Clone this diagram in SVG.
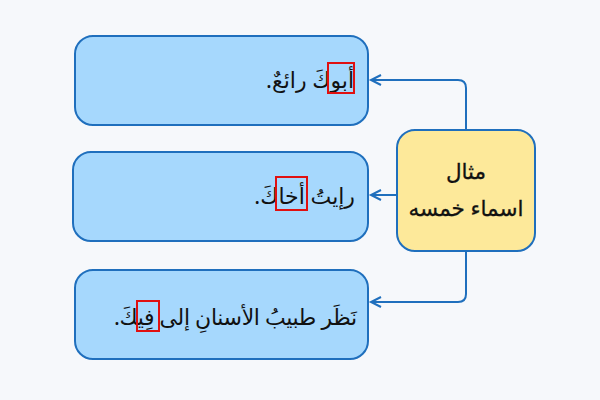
<svg xmlns="http://www.w3.org/2000/svg" width="600" height="400" viewBox="0 0 600 400">
<style>
.box{fill:#a6d8fd;stroke:#1f6fbd;stroke-width:2}
.center{fill:#fde99a;stroke:#1f6fbd;stroke-width:2}
.conn{fill:none;stroke:#1f6fbd;stroke-width:2}
.arr{fill:none;stroke:#1f6fbd;stroke-width:2}
.t{font-family:"Noto Sans","DejaVu Sans",sans-serif;font-size:22px;fill:#111}
.c{font-family:"Noto Sans","DejaVu Sans",sans-serif;font-size:21.5px;font-weight:500;fill:#111;stroke:#111;stroke-width:0.3}
.hl{fill:none;stroke:#e01010;stroke-width:2}
</style>
<rect width="600" height="400" fill="#f6f8fb"/>
<g id="connectors">
<path class="conn" d="M466 130 V88 Q466 80 458 80 H371"/>
<path class="conn" d="M397 195 H371"/>
<path class="conn" d="M466 251 V294 Q466 302 458 302 H371"/>
<path class="arr" d="M381 75 L371 80 L381 85"/>
<path class="arr" d="M381 190 L371 195 L381 200"/>
<path class="arr" d="M381 297 L371 302 L381 307"/>
</g>
<g id="center">
<rect class="center" x="397" y="130" width="138" height="121" rx="18"/>
<text class="c" x="466" y="179" text-anchor="middle">مثال</text>
<text class="c" x="466" y="216" text-anchor="middle">اسماء خمسه</text>
</g>
<g id="ex1">
<rect class="box" x="75" y="36" width="293" height="89" rx="18"/>
<text class="t" x="354" y="88" text-anchor="start" direction="rtl">أبوكَ رائعٌ.</text>
<rect class="hl" x="328" y="63" width="26" height="30"/>
</g>
<g id="ex2">
<rect class="box" x="73" y="152" width="295" height="89" rx="18"/>
<text class="t" x="355" y="204" text-anchor="start" direction="rtl">رإيتُ أخاكَ.</text>
<rect class="hl" x="276" y="177" width="31" height="33"/>
</g>
<g id="ex3">
<rect class="box" x="75" y="270" width="293" height="89" rx="18"/>
<text class="t" x="357" y="325" text-anchor="start" direction="rtl" textLength="243" lengthAdjust="spacing">نَظَر طبيبُ الأسنانِ إلى فِيكَ.</text>
<rect class="hl" x="137" y="301" width="22" height="30"/>
</g>
</svg>
